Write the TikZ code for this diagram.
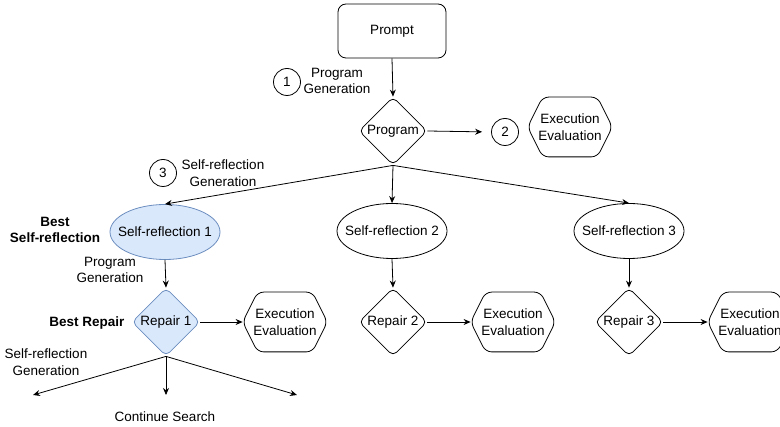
\documentclass[tikz,border=0pt]{standalone}
\usepackage{fontspec}
\setmainfont{Liberation Sans}
\usetikzlibrary{shapes.geometric,arrows.meta}
\definecolor{bfill}{HTML}{DAE8FC}
\definecolor{bdraw}{HTML}{6C8EBF}
\tikzset{
 base/.style={font=\fontsize{13.5}{16.5}\selectfont, align=center, line width=0.8pt},
 promptbox/.style={base, draw, rounded corners=8pt, minimum width=108pt, minimum height=54pt},
 dia/.style={base, draw, shape=diamond, rounded corners=5pt, minimum width=68pt, minimum height=68pt, inner sep=0pt},
 ell/.style={base, draw, ellipse, minimum width=110pt, minimum height=55pt, inner xsep=-16pt, inner ysep=0pt},
 hexnode/.style={base, minimum width=84pt, minimum height=59pt, inner sep=0pt},
 num/.style={base, draw, circle, minimum size=27pt, inner sep=0pt},
 lbl/.style={base},
 boldlbl/.style={base, font=\fontsize{13.5}{16.5}\selectfont\bfseries},
 hl/.style={fill=bfill, draw=bdraw},
 arr/.style={-{Stealth[length=7pt,width=6pt]}, line width=0.8pt},
}
\newcommand\hexdraw[1]{\draw[line width=0.8pt, rounded corners=6pt] (#1.west) -- ([xshift=15pt]#1.north west) -- ([xshift=-15pt]#1.north east) -- (#1.east) -- ([xshift=-15pt]#1.south east) -- ([xshift=15pt]#1.south west) -- cycle;}
\begin{document}
\begin{tikzpicture}[x=1pt,y=-1pt]
\useasboundingbox (0,0) rectangle (780,427);
\clip (0,0) rectangle (780,427);
% nodes
\node[promptbox] (prompt) at (392,31) {Prompt};
\node[dia] (prog) at (393,131) {Program};
\node[hexnode] (e0) at (570,127) {Execution\\Evaluation}; \hexdraw{e0}
\node[num] (n1) at (287,82) {1};
\node[lbl] (l1) at (337,81) {Program\\Generation};
\node[num] (n2) at (505,132) {2};
\node[num] (n3) at (163,173) {3};
\node[lbl] (l3) at (223,173) {Self-reflection\\Generation};

\node[ell,hl] (sr1) at (165,232) {Self-reflection 1};
\node[ell] (sr2) at (392,231) {Self-reflection 2};
\node[ell] (sr3) at (629,231) {Self-reflection 3};
\node[boldlbl] (bsr) at (55,230) {Best\\Self-reflection};
\node[lbl] (l4) at (110,270) {Program\\Generation};

\node[dia,hl] (r1) at (166,322) {Repair 1};
\node[dia] (r2) at (393,322) {Repair 2};
\node[dia] (r3) at (629,322) {Repair 3};
\node[boldlbl] (brp) at (87,323) {Best Repair};
\node[hexnode] (e1) at (285,322) {Execution\\Evaluation}; \hexdraw{e1}
\node[hexnode] (e2) at (513,322) {Execution\\Evaluation}; \hexdraw{e2}
\node[hexnode] (e3) at (750,322) {Execution\\Evaluation}; \hexdraw{e3}

\node[lbl] (l5) at (46,362) {Self-reflection\\Generation};
\node[lbl] (cs) at (165,417) {Continue Search};
\coordinate (c1) at (33,395);
\coordinate (c2) at (166,395);
\coordinate (c3) at (297,395);

% connectors
\draw[arr] (prompt.south) -- (prog.north);
\draw[arr, shorten >=9pt] (prog.east) -- (n2.west);
\draw[arr] (prog.south) -- (sr1.north);
\draw[arr] (prog.south) -- (sr2.north);
\draw[arr] (prog.south) -- (sr3.north);
\draw[arr] (sr1.south) -- (r1.north);
\draw[arr] (sr2.south) -- (r2.north);
\draw[arr] (sr3.south) -- (r3.north);
\draw[arr] (r1.east) -- (e1.west);
\draw[arr] (r2.east) -- (e2.west);
\draw[arr] (r3.east) -- (e3.west);
\draw[arr] (r1.south) -- (c1);
\draw[arr] (r1.south) -- (c2);
\draw[arr] (r1.south) -- (c3);
\end{tikzpicture}
\end{document}
